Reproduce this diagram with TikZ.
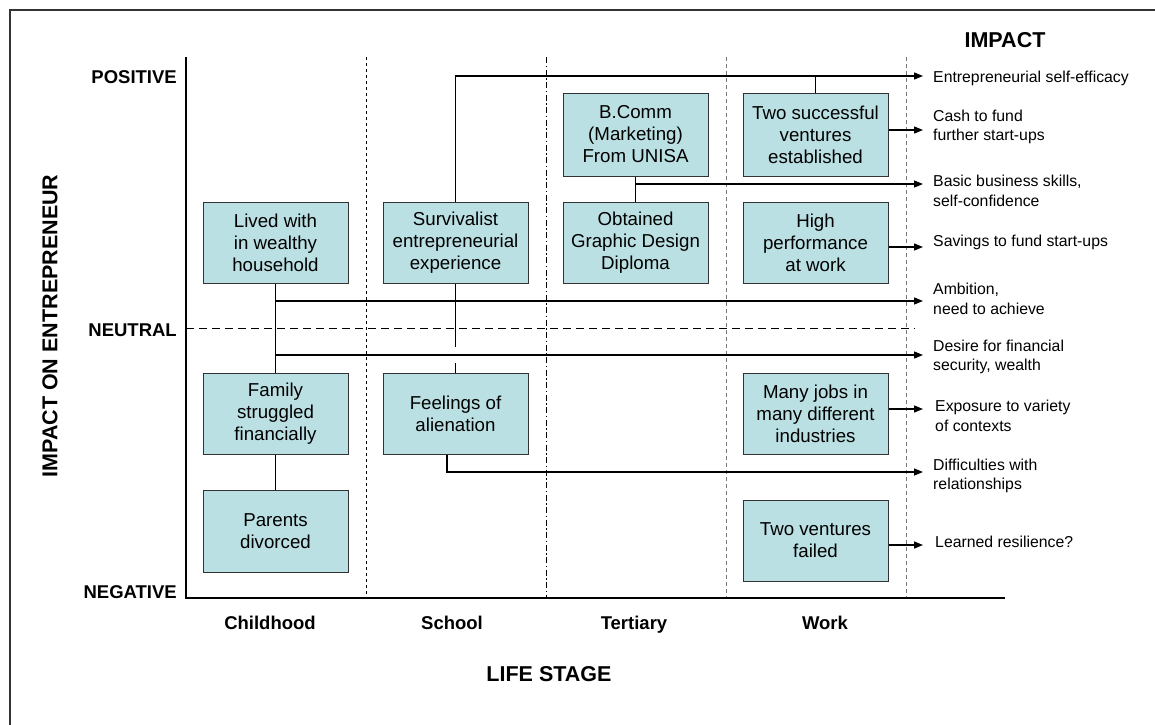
\documentclass[tikz,border=0pt]{standalone}
\usepackage{fontspec}
\setmainfont{Liberation Sans}
\usetikzlibrary{arrows.meta}
\definecolor{boxfill}{RGB}{187,224,227}
\definecolor{divgray}{RGB}{120,120,120}
\begin{document}
\begin{tikzpicture}[x=1pt,y=-1pt,
  event/.style={draw=black!80,line width=1pt,fill=boxfill,minimum width=145pt,
    minimum height=81pt,inner sep=0pt,align=center,
    font=\fontsize{18.7}{22}\selectfont},
  link/.style={line width=1.3pt},
  flow/.style={line width=1.3pt,-{Triangle[length=9pt,width=7pt]}},
  impact/.style={anchor=west,inner sep=0pt,align=left,
    font=\fontsize{15.8}{19.5}\selectfont},
  level/.style={anchor=east,inner sep=0pt,font=\bfseries\fontsize{18.5}{22}\selectfont},
  stage/.style={anchor=base,inner sep=0pt,font=\bfseries\fontsize{18.5}{22}\selectfont},
  title/.style={inner sep=0pt,font=\bfseries\fontsize{21.5}{24}\selectfont},
  divider/.style={line width=1pt}]

\useasboundingbox (0,0) rectangle (1155,724);

% outer frame
\draw[line width=1.5pt,black!80] (10,730) -- (10,10) -- (1160,10);

% stage dividers
\draw[divider,dash pattern=on 3pt off 3pt] (366,57) -- (366,598);
\draw[divider,dash pattern=on 6pt off 2.5pt on 1.5pt off 2.5pt] (546,57) -- (546,598);
\draw[divider,divgray,dash pattern=on 4pt off 3pt] (726,57) -- (726,598);
\draw[divider,divgray,dash pattern=on 4pt off 3pt] (906,57) -- (906,598);

% neutral line
\draw[line width=1pt,dash pattern=on 8pt off 5pt] (186,328) -- (915,328);

% axes
\draw[line width=1.3pt] (186,57) -- (186,598) -- (1005,598);

% axis labels
\node[level] (pos) at (177,77) {POSITIVE};
\node[level] (neu) at (177,330) {NEUTRAL};
\node[level] (neg) at (177,592) {NEGATIVE};
\node[title,rotate=90] (ylab) at (50,326) {IMPACT ON ENTREPRENEUR};
\node[stage] (s1) at (270,629) {Childhood};
\node[stage] (s2) at (452,629) {School};
\node[stage] (s3) at (634,629) {Tertiary};
\node[stage] (s4) at (825,629) {Work};
\node[title,anchor=base] (xlab) at (549,681) {LIFE STAGE};
\node[title,anchor=base] (ilab) at (1005,47) {IMPACT};

% life events
\node[event] (lived) at (275.5,242.5) {Lived with\\in wealthy\\household};
\node[event] (surv) at (455.5,242.5) {Survivalist\\entrepreneurial\\experience};
\node[event,minimum height=83pt] (bcomm) at (635.5,134.5) {B.Comm\\(Marketing)\\From UNISA};
\node[event,minimum height=83pt] (two) at (815.5,134.5) {Two successful\\ventures\\established};
\node[event] (grad) at (635.5,242.5) {Obtained\\Graphic Design\\Diploma};
\node[event] (high) at (815.5,242.5) {High\\performance\\at work};
\node[event] (family) at (275.5,413.5) {Family\\struggled\\financially};
\node[event] (feel) at (455.5,413.5) {Feelings of\\alienation};
\node[event,minimum height=82pt] (parents) at (275.5,531) {Parents\\divorced};
\node[event] (jobs) at (815.5,414) {Many jobs in\\many different\\industries};
\node[event] (failed) at (815.5,540.5) {Two ventures\\failed};

% impacts
\node[impact] (t1) at (933,78.5) {Entrepreneurial self-efficacy};
\node[impact] (t2) at (933,127) {Cash to fund\\further start-ups};
\node[impact] (t3) at (933,191) {Basic business skills,\\self-confidence};
\node[impact] (t4) at (933,242.5) {Savings to fund start-ups};
\node[impact] (t5) at (933,299) {Ambition,\\need to achieve};
\node[impact] (t6) at (933,357) {Desire for financial\\security, wealth};
\node[impact] (t7) at (935,416) {Exposure to variety\\of contexts};
\node[impact] (t8) at (933,476) {Difficulties with\\relationships};
\node[impact] (t9) at (935,541.5) {Learned resilience?};

% arrow ends
\coordinate (a1) at (923,76);
\coordinate (a2) at (923,130);
\coordinate (a3) at (923,184);
\coordinate (a4) at (923,247);
\coordinate (a5) at (923,301);
\coordinate (a6) at (923,355);
\coordinate (a7) at (923,409);
\coordinate (a8) at (923,472);
\coordinate (a9) at (923,545);

% connectors
\draw[flow] (surv.north) |- (a1);
\draw[link] (two.north) -- (two.north |- a1);
\draw[flow] (two.east |- a2) -- (a2);
\draw[link] (bcomm.south) -- (grad.north);
\draw[flow] (bcomm.south |- a3) -- (a3);
\draw[flow] (high.east |- a4) -- (a4);
\draw[link] (lived.south) -- (family.north);
\draw[flow] (lived.south |- a5) -- (a5);
\draw[flow] (lived.south |- a6) -- (a6);
\draw[link] (surv.south) -- ++(0,63);
\draw[link] (feel.north) -- ++(0,-10);
\draw[link] (family.south) -- (parents.north);
\draw[flow] (jobs.east |- a7) -- (a7);
\draw[flow] ([xshift=-8.5pt]feel.south) |- (a8);
\draw[flow] (failed.east |- a9) -- (a9);
\end{tikzpicture}
\end{document}
